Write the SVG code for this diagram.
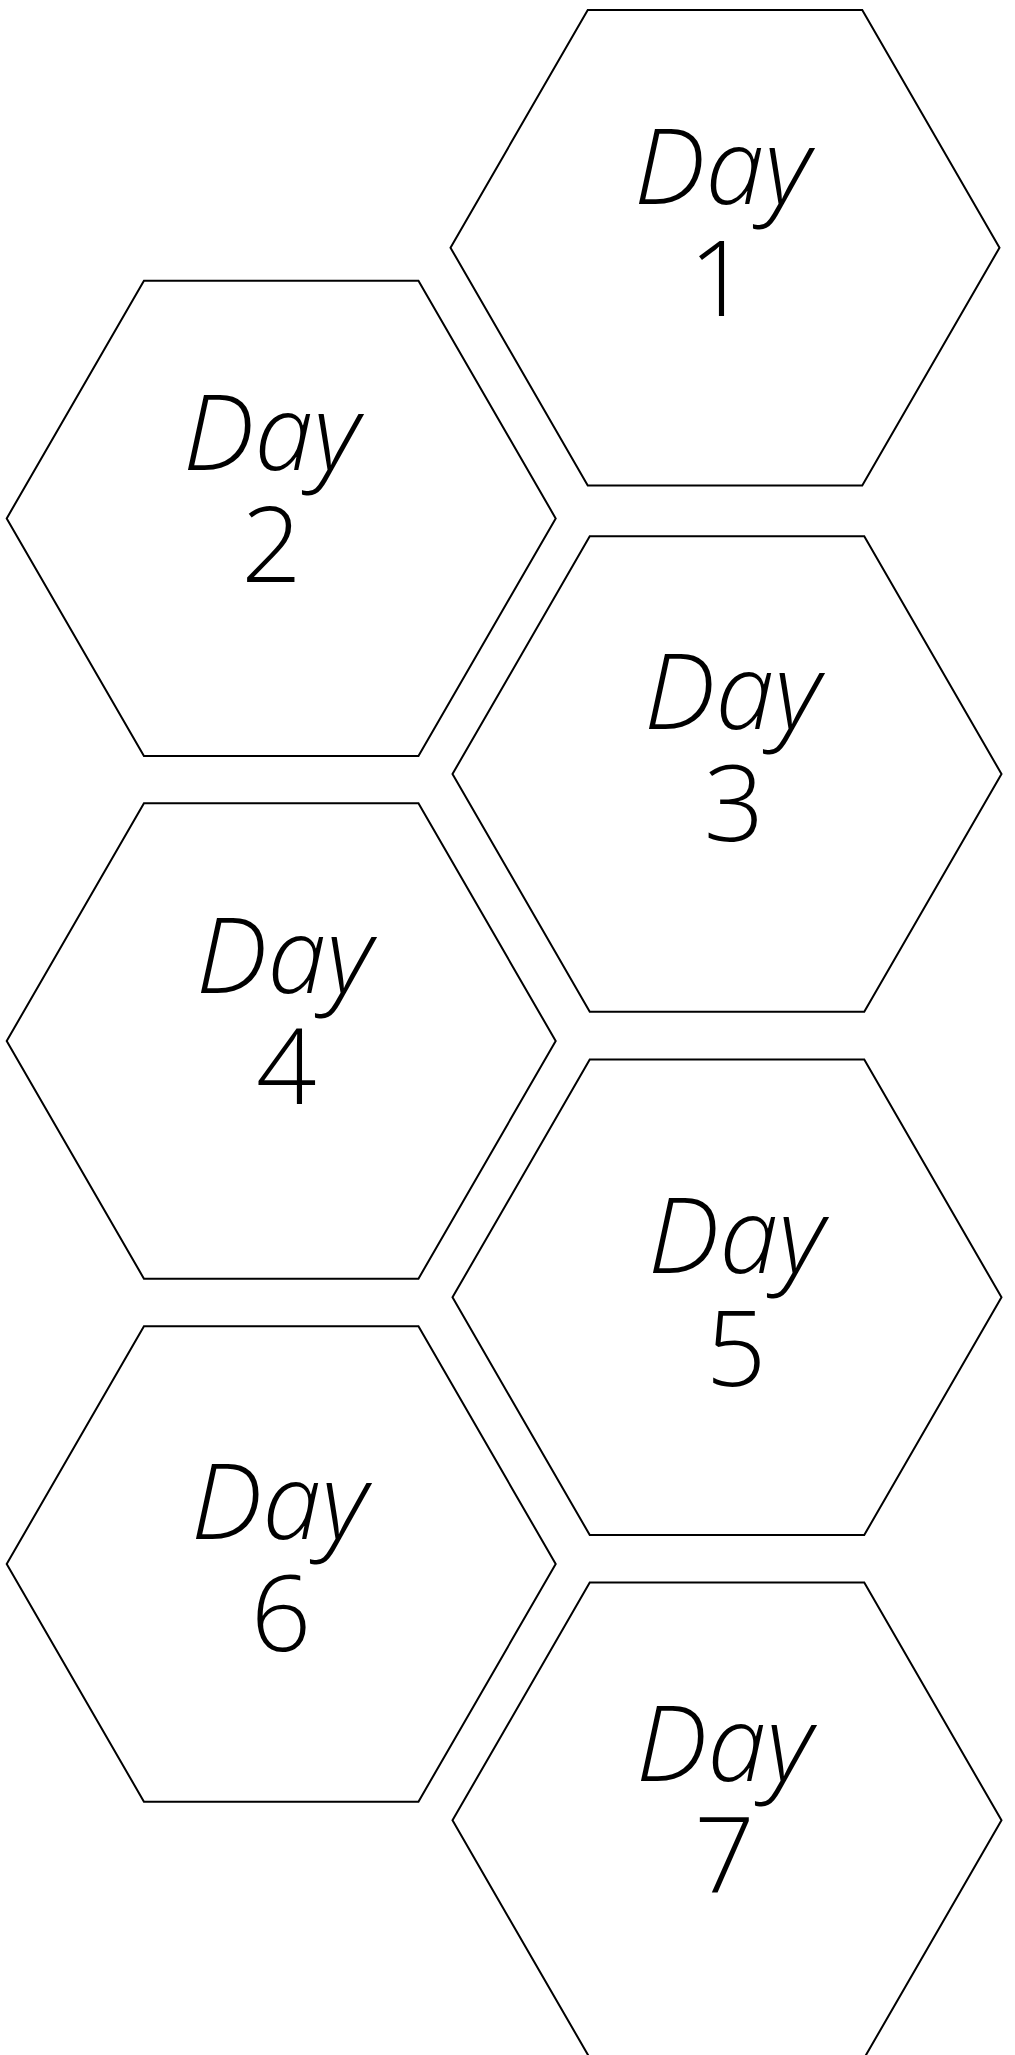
<svg xmlns="http://www.w3.org/2000/svg" width="1015" height="2055" viewBox="0 0 1015 2055">
<style>
.hex{fill:#fff;stroke:#000;stroke-width:2;stroke-linejoin:miter}
.lbl{font-family:"Open Sans","Noto Sans","DejaVu Sans",sans-serif;font-weight:300;font-size:106px;text-anchor:middle;fill:#000}
.day{font-style:italic}
</style>
<defs>
<polygon id="h" points="-274.5,0 -137.25,-237.7 137.25,-237.7 274.5,0 137.25,237.7 -137.25,237.7"/>
</defs>
<rect width="1015" height="2055" fill="#fff"/>
<g id="day1"><use href="#h" class="hex" x="725" y="247.7"/><text class="lbl"><tspan class="day" x="722" y="204">Day</tspan><tspan x="719" y="316">1</tspan></text></g>
<g id="day2"><use href="#h" class="hex" x="281.2" y="518.4"/><text class="lbl"><tspan class="day" x="271" y="470">Day</tspan><tspan x="271.5" y="581.7">2</tspan></text></g>
<g id="day3"><use href="#h" class="hex" x="727" y="774"/><text class="lbl"><tspan class="day" x="732" y="729.3">Day</tspan><tspan x="734" y="840.7">3</tspan></text></g>
<g id="day4"><use href="#h" class="hex" x="281.2" y="1041"/><text class="lbl"><tspan class="day" x="284" y="992.7">Day</tspan><tspan x="286.2" y="1104">4</tspan></text></g>
<g id="day5"><use href="#h" class="hex" x="727" y="1297.3"/><text class="lbl"><tspan class="day" x="736" y="1273.3">Day</tspan><tspan x="736" y="1385.7">5</tspan></text></g>
<g id="day6"><use href="#h" class="hex" x="281.2" y="1564"/><text class="lbl"><tspan class="day" x="279" y="1538.7">Day</tspan><tspan x="281" y="1650.7">6</tspan></text></g>
<g id="day7"><use href="#h" class="hex" x="727" y="1820.3"/><text class="lbl"><tspan class="day" x="724" y="1780.7">Day</tspan><tspan x="724.4" y="1892.3">7</tspan></text></g>
<g id="connectors"/>
</svg>
